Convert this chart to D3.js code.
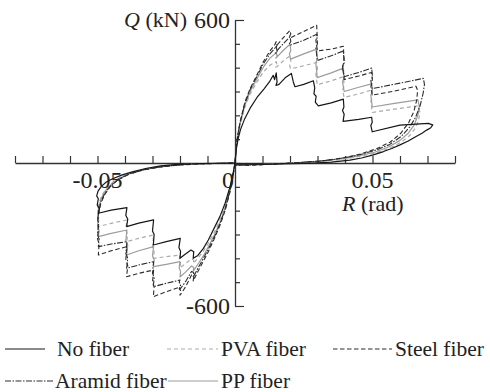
<!DOCTYPE html>
<html>
<head>
<meta charset="utf-8">
<script src="https://cdn.jsdelivr.net/npm/d3@7"></script>
</head>
<body style="margin:0">
<div id="wrap"></div>
<script>
// Shear force Q (kN) versus drift angle R (rad), one loop per specimen: [R, Q]
const noFiberPos = [[0,0],[0.0005,60],[0.0012,105],[0.002,140],[0.0035,185],[0.0055,230],[0.008,275],[0.0105,310],[0.0125,340],[0.0139,368],[0.0144,350],[0.0150,378],[0.0153,340],[0.0149,325],[0.0160,330],[0.0185,360],[0.0205,376],[0.0212,340],[0.0218,320],[0.0250,330],[0.0285,345],[0.0290,315],[0.0287,290],[0.0295,280],[0.0292,255],[0.0303,240],[0.0350,252],[0.0394,268],[0.0396,235],[0.0391,220],[0.0397,205],[0.0393,175],[0.0450,183],[0.0497,192],[0.0499,170],[0.0494,158],[0.0499,131],[0.0600,159],[0.0703,166],[0.0719,160],[0.0712,148],[0.0697,138],[0.0680,125],[0.0660,112],[0.0630,92],[0.0600,76],[0.0570,61],[0.0540,48],[0.0500,33],[0.0460,21],[0.0418,12],[0.0350,4],[0.0250,-2],[0.0120,-5],[0,-5]];
const noFiberNeg = [[0,0],[-0.0007,-43],[-0.0018,-99],[-0.0036,-169],[-0.0055,-225],[-0.0073,-267],[-0.0097,-323],[-0.0115,-358],[-0.0135,-388],[-0.0152,-400],[-0.0150,-372],[-0.0160,-365],[-0.0180,-382],[-0.0200,-400],[-0.0198,-370],[-0.0204,-355],[-0.0199,-316],[-0.0250,-330],[-0.0297,-344],[-0.0294,-300],[-0.0300,-285],[-0.0296,-239],[-0.0350,-252],[-0.0394,-267],[-0.0390,-235],[-0.0397,-220],[-0.0393,-187],[-0.0450,-198],[-0.0497,-211],[-0.0493,-192],[-0.0501,-176],[-0.0497,-150],[-0.0503,-138],[-0.0498,-118],[-0.0486,-98],[-0.0468,-80],[-0.0445,-66],[-0.0410,-50],[-0.0370,-36],[-0.0321,-22],[-0.0270,-12],[-0.0210,-6],[-0.0120,-2],[0,0]];

const pvaPos = [[0,0],[0.0004,58],[0.0009,100],[0.0018,158],[0.0036,235],[0.0055,290],[0.0079,338],[0.0103,382],[0.0127,410],[0.0145,422],[0.0150,425],[0.0153,410],[0.0148,402],[0.0153,405],[0.0175,428],[0.0200,450],[0.0203,428],[0.0198,415],[0.0202,395],[0.0250,408],[0.0297,422],[0.0300,395],[0.0294,375],[0.0299,328],[0.0350,345],[0.0394,362],[0.0397,325],[0.0391,305],[0.0397,275],[0.0450,290],[0.0497,306],[0.0500,275],[0.0494,258],[0.0499,212],[0.0580,226],[0.0665,240],[0.0672,215],[0.0668,180],[0.0655,145],[0.0635,115],[0.0605,88],[0.0565,63],[0.0515,43],[0.0450,27],[0.0380,14],[0.0300,6],[0.0200,0],[0.0100,-6],[0,-8]];
const pvaNeg = [[0,0],[-0.0007,-48],[-0.0018,-105],[-0.0036,-183],[-0.0055,-240],[-0.0073,-286],[-0.0097,-336],[-0.0115,-370],[-0.0135,-400],[-0.0152,-422],[-0.0150,-408],[-0.0158,-402],[-0.0180,-422],[-0.0200,-440],[-0.0198,-420],[-0.0203,-405],[-0.0200,-386],[-0.0250,-393],[-0.0297,-400],[-0.0294,-370],[-0.0300,-355],[-0.0296,-302],[-0.0350,-316],[-0.0394,-330],[-0.0390,-300],[-0.0397,-282],[-0.0393,-239],[-0.0450,-253],[-0.0497,-267],[-0.0494,-245],[-0.0500,-228],[-0.0496,-205],[-0.0499,-185],[-0.0492,-160],[-0.0482,-132],[-0.0466,-105],[-0.0444,-80],[-0.0414,-58],[-0.0374,-40],[-0.0325,-26],[-0.0270,-15],[-0.0212,-8],[-0.0150,-4],[0,0]];

const ppPos = [[0,0],[0.0004,60],[0.0009,104],[0.0018,163],[0.0036,243],[0.0055,300],[0.0079,352],[0.0103,402],[0.0127,440],[0.0145,458],[0.0150,465],[0.0153,448],[0.0148,440],[0.0153,445],[0.0175,472],[0.0200,498],[0.0203,472],[0.0198,458],[0.0202,436],[0.0250,458],[0.0297,478],[0.0300,440],[0.0294,420],[0.0299,358],[0.0350,378],[0.0394,398],[0.0397,360],[0.0391,340],[0.0397,300],[0.0450,318],[0.0497,332],[0.0500,300],[0.0494,285],[0.0499,235],[0.0580,250],[0.0665,265],[0.0670,240],[0.0665,200],[0.0652,160],[0.0630,125],[0.0600,95],[0.0560,68],[0.0510,46],[0.0450,30],[0.0380,16],[0.0300,7],[0.0200,0],[0.0100,-6],[0,-8]];
const ppNeg = [[0,0],[-0.0007,-50],[-0.0018,-110],[-0.0036,-190],[-0.0055,-250],[-0.0073,-298],[-0.0097,-352],[-0.0115,-390],[-0.0135,-425],[-0.0152,-455],[-0.0150,-438],[-0.0158,-432],[-0.0180,-458],[-0.0200,-478],[-0.0198,-455],[-0.0203,-440],[-0.0200,-414],[-0.0250,-425],[-0.0297,-435],[-0.0294,-405],[-0.0300,-390],[-0.0296,-351],[-0.0350,-368],[-0.0394,-386],[-0.0390,-345],[-0.0397,-325],[-0.0393,-281],[-0.0450,-295],[-0.0497,-309],[-0.0494,-285],[-0.0500,-265],[-0.0496,-230],[-0.0499,-205],[-0.0493,-175],[-0.0485,-145],[-0.0470,-115],[-0.0448,-87],[-0.0418,-62],[-0.0378,-42],[-0.0328,-27],[-0.0273,-16],[-0.0215,-9],[-0.0150,-4],[0,0]];

const steelPos = [[0,0],[0.0004,65],[0.0009,110],[0.0018,170],[0.0036,255],[0.0055,312],[0.0079,368],[0.0103,425],[0.0127,470],[0.0145,497],[0.0150,510],[0.0153,492],[0.0148,485],[0.0153,495],[0.0175,525],[0.0200,556],[0.0203,540],[0.0198,532],[0.0202,525],[0.0250,552],[0.0297,578],[0.0299,530],[0.0294,515],[0.0300,470],[0.0350,478],[0.0394,490],[0.0397,425],[0.0391,405],[0.0397,350],[0.0450,365],[0.0497,380],[0.0500,340],[0.0494,322],[0.0499,285],[0.0580,302],[0.0658,322],[0.0664,305],[0.0661,265],[0.0650,215],[0.0632,170],[0.0603,125],[0.0565,88],[0.0515,60],[0.0458,38],[0.0400,23],[0.0330,11],[0.0250,3],[0.0150,-4],[0.0050,-10],[0,-8]];
const steelNeg = [[0,0],[-0.0007,-55],[-0.0018,-120],[-0.0036,-200],[-0.0055,-262],[-0.0073,-312],[-0.0097,-372],[-0.0115,-412],[-0.0135,-455],[-0.0152,-495],[-0.0150,-475],[-0.0158,-470],[-0.0180,-520],[-0.0200,-555],[-0.0198,-535],[-0.0203,-528],[-0.0200,-520],[-0.0250,-540],[-0.0297,-561],[-0.0294,-520],[-0.0300,-500],[-0.0296,-449],[-0.0350,-463],[-0.0394,-477],[-0.0390,-430],[-0.0397,-405],[-0.0393,-351],[-0.0450,-368],[-0.0497,-386],[-0.0494,-340],[-0.0500,-318],[-0.0496,-270],[-0.0499,-240],[-0.0495,-205],[-0.0488,-170],[-0.0475,-135],[-0.0455,-100],[-0.0425,-70],[-0.0385,-47],[-0.0335,-30],[-0.0280,-18],[-0.0220,-10],[-0.0150,-5],[-0.0070,-2],[0,0]];

const aramidPos = [[0,0],[0.0004,62],[0.0009,108],[0.0018,168],[0.0036,250],[0.0055,308],[0.0079,362],[0.0103,416],[0.0127,458],[0.0145,482],[0.0150,490],[0.0153,468],[0.0148,460],[0.0153,472],[0.0175,500],[0.0200,530],[0.0203,510],[0.0198,500],[0.0202,495],[0.0250,515],[0.0297,540],[0.0300,500],[0.0294,485],[0.0299,430],[0.0350,450],[0.0394,470],[0.0397,420],[0.0391,400],[0.0397,362],[0.0450,380],[0.0497,398],[0.0500,360],[0.0494,345],[0.0499,312],[0.0600,335],[0.0685,355],[0.0689,330],[0.0684,292],[0.0673,240],[0.0656,190],[0.0636,152],[0.0605,112],[0.0563,78],[0.0515,55],[0.0460,37],[0.0418,26],[0.0360,15],[0.0300,7],[0.0220,1],[0.0120,-6],[0,-10]];
const aramidNeg = [[0,0],[-0.0007,-53],[-0.0018,-116],[-0.0036,-195],[-0.0055,-256],[-0.0073,-305],[-0.0097,-362],[-0.0115,-400],[-0.0135,-442],[-0.0152,-480],[-0.0150,-460],[-0.0158,-455],[-0.0180,-498],[-0.0200,-530],[-0.0198,-510],[-0.0203,-500],[-0.0200,-491],[-0.0250,-505],[-0.0297,-519],[-0.0294,-480],[-0.0300,-462],[-0.0296,-414],[-0.0350,-428],[-0.0394,-442],[-0.0390,-400],[-0.0397,-380],[-0.0393,-330],[-0.0450,-340],[-0.0497,-351],[-0.0494,-320],[-0.0500,-300],[-0.0496,-255],[-0.0499,-230],[-0.0494,-195],[-0.0487,-160],[-0.0473,-127],[-0.0452,-95],[-0.0422,-67],[-0.0382,-45],[-0.0332,-28],[-0.0277,-17],[-0.0218,-9],[-0.0150,-4],[0,0]];

// Axis ticks and labels
const xTickValues = [-0.08,-0.07,-0.06,-0.05,-0.04,-0.03,-0.02,-0.01,0,0.01,0.02,0.03,0.04,0.05,0.06,0.07,0.08];
const xLabelValues = [-0.05, 0, 0.05];
const xLabelTexts = ["-0.05", "0", "0.05"];
const yTickValues = [-600,-500,-400,-300,-200,-100,0,100,200,300,400,500,600];
const yLabelValues = [600, -600];
const yLabelTexts = ["600", "-600"];

// Drawing styles per specimen (drawn light ones first)
const series = [
  { name: "PVA fiber",    pos: pvaPos,    neg: pvaNeg,    color: "#ababab", dash: "4,3",            width: 1.2 },
  { name: "PP fiber",     pos: ppPos,     neg: ppNeg,     color: "#9c9c9c", dash: null,             width: 1.2 },
  { name: "Steel fiber",  pos: steelPos,  neg: steelNeg,  color: "#2c2c2c", dash: "4.5,2.5",        width: 1.1 },
  { name: "Aramid fiber", pos: aramidPos, neg: aramidNeg, color: "#2c2c2c", dash: "6,1.5,1.5,1.5",  width: 1.1 },
  { name: "No fiber",     pos: noFiberPos,neg: noFiberNeg,color: "#161616", dash: null,             width: 1.2 }
];

const FONT = "Liberation Serif";

const svg = d3.select("#wrap").append("svg")
  .attr("width", 490).attr("height", 392)
  .attr("font-family", FONT)
  .style("display", "block");

const x = d3.scaleLinear().domain([-0.08, 0.08]).range([15, 455]);
const y = d3.scaleLinear().domain([-600, 600]).range([306, 20]);

// Horizontal axis: ticks point upward, labels placed below
const gx = svg.append("g")
  .attr("transform", `translate(0,${y(0)})`)
  .call(d3.axisBottom(x).tickValues(xTickValues).tickSize(-7).tickSizeOuter(0).tickFormat(""))
  .attr("font-family", FONT);
gx.select(".domain").attr("stroke", "#333").attr("stroke-width", 1.3);
gx.selectAll(".tick line").attr("stroke", "#333").attr("stroke-width", 1.2);
gx.selectAll(".tick text").remove();

// Vertical axis: ticks point right, end ticks longer
const gy = svg.append("g")
  .attr("transform", `translate(${x(0)},0)`)
  .call(d3.axisRight(y).tickValues(yTickValues).tickSize(5).tickSizeOuter(0).tickFormat(""))
  .attr("font-family", FONT);
gy.select(".domain").attr("stroke", "#333").attr("stroke-width", 1.3);
gy.selectAll(".tick line").attr("stroke", "#333").attr("stroke-width", 1.2)
  .filter(d => Math.abs(d) === 600).attr("x2", 9);
gy.selectAll(".tick text").remove();

// Loops
const line = d3.line().x(d => x(d[0])).y(d => y(d[1]));
const gLoops = svg.append("g").attr("fill", "none");
series.forEach(s => {
  [s.pos, s.neg].forEach(pts => {
    gLoops.append("path")
      .attr("d", line(pts))
      .attr("stroke", s.color)
      .attr("stroke-width", s.width)
      .attr("stroke-dasharray", s.dash)
      .attr("stroke-linejoin", "round");
  });
});

// Tick labels
xLabelValues.forEach((v, i) => {
  svg.append("text")
    .attr("x", v === 0 ? x(v) - 1 : x(v))
    .attr("y", 188)
    .attr("text-anchor", v === 0 ? "end" : "middle")
    .attr("font-family", FONT)
    .attr("font-size", 24)
    .attr("fill", "#222")
    .text(xLabelTexts[i]);
});
yLabelValues.forEach((v, i) => {
  svg.append("text")
    .attr("x", x(0) - 5)
    .attr("y", y(v) + 8)
    .attr("text-anchor", "end")
    .attr("font-family", FONT)
    .attr("font-size", 24)
    .attr("fill", "#222")
    .text(yLabelTexts[i]);
});

// Axis titles
const qTitle = svg.append("text").attr("x", 187).attr("y", 27).attr("text-anchor", "end")
  .attr("font-family", FONT).attr("font-size", 22).attr("fill", "#222");
qTitle.append("tspan").attr("font-style", "italic").text("Q");
qTitle.append("tspan").text(" (kN)");

const rTitle = svg.append("text").attr("x", 342).attr("y", 211)
  .attr("font-family", FONT).attr("font-size", 22).attr("fill", "#222");
rTitle.append("tspan").attr("font-style", "italic").text("R");
rTitle.append("tspan").text(" (rad)");

// Legend
const legendOrder = ["No fiber", "PVA fiber", "Steel fiber", "Aramid fiber", "PP fiber"];
const legendSlots = [
  { x1: 5,   x2: 45,  tx: 57,  y: 349 },
  { x1: 167, x2: 218, tx: 221, y: 349 },
  { x1: 333, x2: 392, tx: 395, y: 349 },
  { x1: 5,   x2: 53,  tx: 55,  y: 381 },
  { x1: 168, x2: 218, tx: 221, y: 381 }
];
legendOrder.forEach((name, i) => {
  const s = series.find(e => e.name === name);
  const slot = legendSlots[i];
  svg.append("line")
    .attr("x1", slot.x1).attr("x2", slot.x2).attr("y1", slot.y).attr("y2", slot.y)
    .attr("stroke", s.color).attr("stroke-width", 1.2).attr("stroke-dasharray", s.dash);
  svg.append("text")
    .attr("x", slot.tx).attr("y", slot.y + 6.5)
    .attr("font-family", FONT).attr("font-size", 21.5).attr("fill", "#222")
    .text(name);
});
</script>
</body>
</html>
